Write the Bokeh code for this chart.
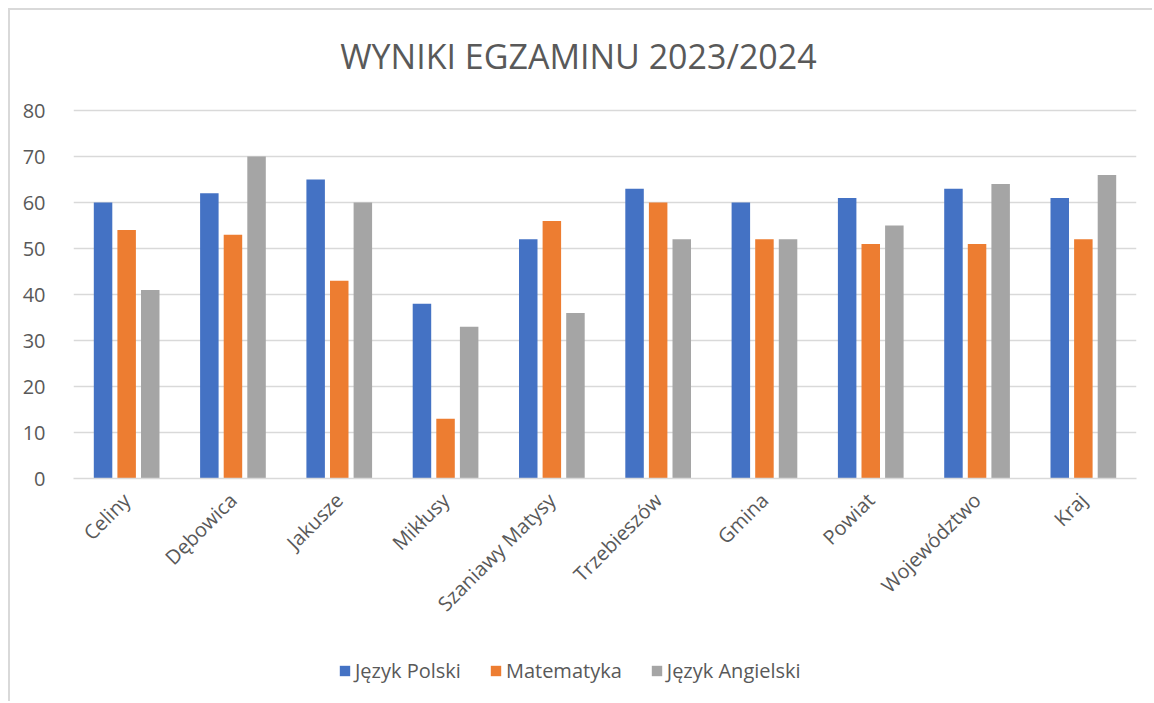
from bokeh.plotting import figure
from bokeh.models import FactorRange, Range1d, Legend, LegendItem, Label
from bokeh.layouts import column
from bokeh.transform import dodge
from bokeh.embed import file_html
from bokeh.resources import INLINE
import math

title_text = "WYNIKI EGZAMINU 2023/2024"
categories = ["Celiny", "Dębowica", "Jakusze", "Mikłusy", "Szaniawy Matysy",
              "Trzebieszów", "Gmina", "Powiat", "Województwo", "Kraj"]
polski = [60, 62, 65, 38, 52, 63, 60, 61, 63, 61]
matematyka = [54, 53, 43, 13, 56, 60, 52, 51, 51, 52]
angielski = [41, 70, 60, 33, 36, 52, 52, 55, 64, 66]
series_names = ["Język Polski", "Matematyka", "Język Angielski"]
y_ticks = [0, 10, 20, 30, 40, 50, 60, 70, 80]
colors = ["#4472C4", "#ED7D31", "#A5A5A5"]

FONT = "Open Sans"
TXT = "#595959"
GRID = "#d9d9d9"

data = dict(cat=categories, polski=polski, matematyka=matematyka, angielski=angielski)
keys = ["polski", "matematyka", "angielski"]
offsets = [-0.222, 0.0, 0.222]

# frame extends above the top tick so the title can sit inside the plot area
Y_TOP = 80 * 448 / 368

p = figure(x_range=FactorRange(*categories, range_padding=0), y_range=Range1d(0, Y_TOP),
           width=1144, height=630, output_backend="svg", toolbar_location=None,
           min_border_left=63, min_border_right=18, min_border_top=20, min_border_bottom=162)
p.x_range.factor_padding = 0
p.styles = {"border-left": "2px solid #d9d9d9", "border-top": "2px solid #d9d9d9"}

p.outline_line_color = None
p.background_fill_color = "white"
p.border_fill_color = "white"

p.add_layout(Label(x=4.75, y=Y_TOP - 25 / 4.6, text=title_text, text_font=FONT,
                   text_font_size="34px", text_color=TXT, text_align="center",
                   text_baseline="middle"))

for k, off, c in zip(keys, offsets, colors):
    p.vbar(x=dodge("cat", off, range=p.x_range), top=k, width=0.174, source=data,
           fill_color=c, line_color=None)

p.xgrid.grid_line_color = None
p.ygrid.grid_line_color = GRID
p.ygrid.grid_line_width = 1.5
p.yaxis.ticker = y_ticks

p.yaxis.axis_line_color = None
p.yaxis.major_tick_line_color = None
p.yaxis.minor_tick_line_color = None
p.yaxis.major_label_standoff = 22
p.yaxis.major_label_text_font = FONT
p.yaxis.major_label_text_font_size = "20px"
p.yaxis.major_label_text_color = TXT

p.xaxis.axis_line_color = GRID
p.xaxis.axis_line_width = 1.5
p.xaxis.major_tick_line_color = None
p.xaxis.minor_tick_line_color = None
p.xaxis.major_label_orientation = math.pi / 4
p.xaxis.major_label_standoff = 12
p.xaxis.major_label_text_font = FONT
p.xaxis.major_label_text_font_size = "20px"
p.xaxis.major_label_text_color = TXT

# legend strip below the chart
q = figure(x_range=FactorRange(*categories), y_range=Range1d(0, 80),
           width=1144, height=63, output_backend="svg", toolbar_location=None,
           x_axis_type=None, y_axis_type=None,
           min_border_left=0, min_border_right=0, min_border_top=0, min_border_bottom=0)
q.styles = {"border-left": "2px solid #d9d9d9"}
q.outline_line_color = None
q.background_fill_color = "white"
q.border_fill_color = "white"
legend_renderers = []
for k, off, c in zip(keys, offsets, colors):
    r = q.vbar(x=dodge("cat", off, range=q.x_range), top=k, width=0.174, source=data,
               fill_color=c, line_color=None, visible=False)
    legend_renderers.append(r)

legend = Legend(items=[LegendItem(label=n, renderers=[r]) for n, r in zip(series_names, legend_renderers)],
                orientation="horizontal", location=(265, 17))
legend.label_text_font = FONT
legend.label_text_font_size = "20px"
legend.label_text_color = TXT
legend.glyph_width = 13
legend.glyph_height = 13
legend.label_standoff = 4
legend.spacing = 28
legend.padding = 0
legend.margin = 0
legend.border_line_color = None
legend.background_fill_alpha = 0
legend.inactive_fill_alpha = 0
q.add_layout(legend, "center")

layout = column(p, q, spacing=0, margin=(8, 0, 0, 8))

open("out.html", "w").write(file_html(layout, INLINE))
